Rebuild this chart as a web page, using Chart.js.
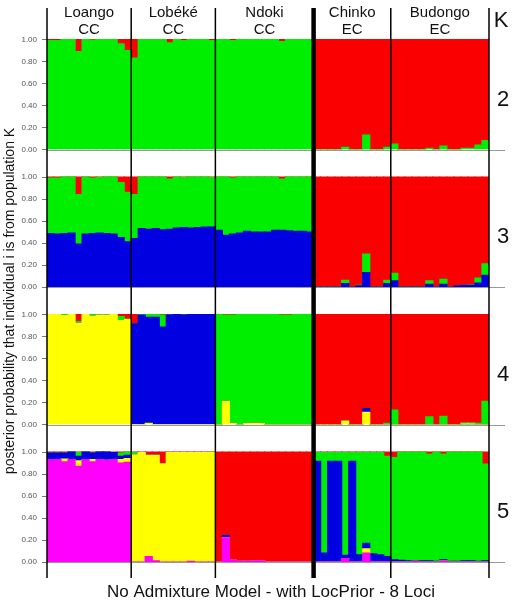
<!DOCTYPE html>
<html>
<head>
<meta charset="utf-8">
<script src="https://cdn.jsdelivr.net/npm/chart.js@4.4.1/dist/chart.umd.min.js"></script>
<style>
  html, body { margin: 0; padding: 0; background: #fff; }
  canvas { display: block; }
</style>
</head>
<body>
<canvas id="structureChart" width="515" height="606"></canvas>
<script>
// populations (label lines) and number of individuals in each
const popNames = [['Loango', 'CC'], ['Lobéké', 'CC'], ['Ndoki', 'CC'], ['Chinko', 'EC'], ['Budongo', 'EC']];
const popSizes = [12, 12, 14, 11, 14];
const kValues = ['2', '3', '4', '5'];
const yTicks = [0, 0.2, 0.4, 0.6, 0.8, 1.0];

// colours of the clusters
const RED = '#fb0000';
const GREEN = '#00ee00';
const BLUE = '#0000e0';
const YELLOW = '#ffff00';
const MAGENTA = '#ff00ff';

// K = 2  (order: Loango | Lobéké | Ndoki | Chinko | Budongo)
const k2Green = [.99,.99,1,1,.89,1,.995,1,1,1,.96,.90,
    .83,1,1,1,1,.97,1,.99,1,1,1,.99,
    1,1,.99,1,1,1,1,1,1,.98,1,1,1,1,
    0,0,0,0,.02,0,0,.13,0,0,.02,
    .05,0,0,0,0,.01,0,.03,0,0,.01,.01,.04,.08];
const k2Red = [.01,.01,0,0,.11,0,.005,0,0,0,.04,.10,
    .17,0,0,0,0,.03,0,.01,0,0,0,.01,
    0,0,.01,0,0,0,0,0,0,.02,0,0,0,0,
    1,1,1,1,.98,1,1,.87,1,1,.98,
    .95,1,1,1,1,.99,1,.97,1,1,.99,.99,.96,.92];

// K = 3
const k3Blue = [.485,.48,.485,.49,.39,.48,.485,.49,.485,.48,.45,.41,
    .44,.53,.525,.53,.52,.525,.535,.54,.535,.54,.545,.545,
    .515,.47,.48,.49,.505,.50,.50,.50,.515,.515,.51,.505,.505,.50,
    0,0,0,0,.03,0,.01,.13,0,0,.03,
    .055,0,0,0,0,.025,0,.025,0,.01,.015,.015,.035,.105];
const k3Green = [.505,.51,.515,.51,.45,.52,.505,.505,.515,.52,.50,.45,
    .40,.47,.475,.47,.48,.455,.465,.455,.465,.46,.455,.45,
    .485,.53,.51,.51,.495,.50,.50,.50,.485,.465,.49,.495,.495,.50,
    0,0,0,0,.03,0,.005,.17,0,0,.03,
    .07,0,0,0,0,.03,0,.045,0,0,0,.005,.045,.105];
const k3Red = [.01,.01,0,0,.16,0,.01,.005,0,0,.05,.14,
    .16,0,0,0,0,.02,0,.005,0,0,0,.005,
    0,0,.01,0,0,0,0,0,0,.02,0,0,0,0,
    1,1,1,1,.94,1,.985,.70,1,1,.94,
    .875,1,1,1,1,.945,1,.93,1,.99,.985,.98,.92,.79];

// K = 4
const k4Yellow = [1,1,.99,1,.92,1,.985,.995,.995,1,.945,.955,
    0,0,.01,0,0,0,0,0,0,0,0,0,
    0,.21,.01,0,.01,.01,.01,0,0,0,0,0,0,0,
    0,0,0,0,.03,0,0,.11,0,0,0,
    0,0,0,0,0,0,0,0,0,0,.005,.005,0,0];
const k4Blue = [0,0,0,0,0,0,0,0,0,0,0,0,
    .915,.995,.965,.975,.885,.995,1,.995,1,1,1,1,
    0,0,0,0,0,0,0,0,0,0,0,0,0,0,
    0,0,0,0,0,0,0,.035,0,0,0,
    0,0,0,0,0,0,0,0,0,0,0,0,0,0];
const k4Green = [0,0,.01,0,.015,0,.015,.005,.005,0,.035,0,
    0,.005,.025,.025,.11,0,0,0,0,0,0,0,
    1,.785,.985,1,.99,.99,.99,1,1,.995,.995,1,1,1,
    0,0,0,0,0,0,0,0,0,0,.01,
    .13,0,0,0,0,.07,0,.075,0,0,.01,.01,.01,.21];
const k4Red = [0,0,0,0,.065,0,0,0,0,0,.02,.045,
    .085,0,0,0,.005,.005,0,.005,0,0,0,0,
    0,.005,.005,0,0,0,0,0,0,.005,.005,0,0,0,
    1,1,1,1,.97,1,1,.855,1,1,.99,
    .87,1,1,1,1,.93,1,.925,1,1,.985,.985,.99,.79];

// K = 5
const k5Magenta = [.93,.93,.91,.93,.87,.93,.91,.93,.925,.93,.90,.905,
    0,0,.05,.01,0,0,0,0,.005,0,0,0,
    0,.22,.02,.005,.005,.01,.01,0,0,0,0,0,0,0,
    0,0,0,0,.03,0,0,.08,0,0,0,
    0,0,0,.005,0,0,0,.01,0,0,0,0,0,0];
const k5Yellow = [0,0,.025,0,.05,0,.02,0,0,0,.03,.035,
    .975,.995,.92,.96,.893,.995,.995,.995,.99,.995,.995,1,
    0,0,0,0,0,0,0,0,0,0,0,0,0,0,
    0,0,0,0,0,0,0,.04,0,0,0,
    0,0,0,0,0,0,0,0,0,0,0,0,0,0];
const k5Blue = [.06,.06,.055,.07,.04,.07,.06,.07,.075,.065,.03,.03,
    0,0,0,0,0,0,0,0,0,0,0,0,
    0,.02,0,0,0,0,0,0,0,0,0,0,0,0,
    .915,.08,.915,.915,.03,.915,.065,.05,.075,.065,.05,
    .02,.015,.01,.005,.01,.01,.005,.01,.005,.005,.01,.01,.005,.01];
const k5Green = [0,0,0,0,.035,0,0,0,0,0,.03,.03,
    .02,0,0,0,0,0,0,0,0,0,0,0,
    0,0,0,0,0,0,0,0,0,0,0,0,0,0,
    .08,.915,.08,.08,.935,.08,.93,.825,.92,.93,.91,
    .93,.985,.99,.99,.99,.97,.995,.96,.995,.995,.99,.99,.995,.88];
const k5Red = [.01,.01,.01,0,.005,0,.01,0,0,.005,.01,0,
    .005,.005,.03,.03,.107,.005,.005,.005,.005,.005,.005,0,
    1,.76,.98,.995,.995,.99,.99,1,1,1,1,1,1,1,
    .005,.005,.005,.005,.005,.005,.005,.005,.005,.005,.04,
    .05,0,0,0,0,.02,0,.02,0,0,0,0,0,.11];

const individuals = k2Green.map((v, i) => String(i + 1));

function bar(data, color, axis) {
    return {
        data: data,
        backgroundColor: color,
        borderWidth: 0,
        inflateAmount: 0.6,  // overlap neighbours a little so no seams show
        yAxisID: axis,
        barPercentage: 1,
        categoryPercentage: 1
    };
}

function panelAxis(weight) {
    return {
        type: 'linear',
        position: 'left',
        stack: 'panels',
        stackWeight: 1,
        weight: weight,
        stacked: true,
        min: 0,
        max: 1.25,
        afterBuildTicks: scale => { scale.ticks = yTicks.map(v => ({ value: v })); },
        afterFit: scale => { scale.width = 47; },
        ticks: {
            callback: v => v.toFixed(2),
            font: { family: 'Liberation Sans, Arial, sans-serif', size: 8 },
            color: '#555',
            padding: 5
        },
        grid: { drawOnChartArea: false, drawTicks: true, tickLength: 5, color: '#777' },
        border: { display: false }
    };
}

// separators, zero lines and all the labels
const decorations = {
    id: 'decorations',
    afterDraw(chart) {
        const c = chart.ctx;
        const x = chart.scales.x;
        const area = chart.chartArea;
        const font = 'Liberation Sans, Arial, sans-serif';
        const axes = ['yK2', 'yK3', 'yK4', 'yK5'].map(id => chart.scales[id]);

        c.save();
        // zero line of each panel
        c.strokeStyle = '#999';
        c.lineWidth = 1;
        axes.forEach(s => {
            const y = Math.round(s.getPixelForValue(0)) + 0.5;
            c.beginPath();
            c.moveTo(area.left, y);
            c.lineTo(505, y);
            c.stroke();
        });

        // population separators
        let edge = -0.5;
        const bounds = [edge];
        popSizes.forEach(n => { edge += n; bounds.push(edge); });
        c.strokeStyle = '#000';
        bounds.forEach((b, i) => {
            const px = x.getPixelForValue(b);
            c.lineWidth = i === 3 ? 4.5 : 1.5;
            c.beginPath();
            c.moveTo(px, 8);
            c.lineTo(px, 578);
            c.stroke();
        });

        // population names
        c.fillStyle = '#111';
        c.textAlign = 'center';
        c.textBaseline = 'middle';
        c.font = '15px ' + font;
        popNames.forEach((lines, i) => {
            const cx = (x.getPixelForValue(bounds[i]) + x.getPixelForValue(bounds[i + 1])) / 2;
            c.fillText(lines[0], cx, 13);
            c.fillText(lines[1], cx, 30);
        });

        // K labels
        c.font = '22px ' + font;
        c.fillText('K', 501, 21);
        axes.forEach((s, i) => {
            const mid = (s.getPixelForValue(0) + s.getPixelForValue(1)) / 2;
            c.fillText(kValues[i], 503, mid + 5);
        });

        // bottom title
        c.font = '17px ' + font;
        c.fillText('No Admixture Model - with LocPrior - 8 Loci', 271, 592);

        // y title
        c.font = '14px ' + font;
        c.translate(10, 301);
        c.rotate(-Math.PI / 2);
        c.fillText('posterior probability that individual i is from population K', 0, 0);
        c.restore();
    }
};

const ctx = document.getElementById('structureChart');

const structureChart = new Chart(ctx, {
    type: 'bar',
    data: {
        labels: individuals,
        datasets: [
            bar(k2Green, GREEN, 'yK2'),
            bar(k2Red, RED, 'yK2'),
            bar(k3Blue, BLUE, 'yK3'),
            bar(k3Green, GREEN, 'yK3'),
            bar(k3Red, RED, 'yK3'),
            bar(k4Yellow, YELLOW, 'yK4'),
            bar(k4Blue, BLUE, 'yK4'),
            bar(k4Green, GREEN, 'yK4'),
            bar(k4Red, RED, 'yK4'),
            bar(k5Magenta, MAGENTA, 'yK5'),
            bar(k5Yellow, YELLOW, 'yK5'),
            bar(k5Blue, BLUE, 'yK5'),
            bar(k5Green, GREEN, 'yK5'),
            bar(k5Red, RED, 'yK5')
        ]
    },
    options: {
        responsive: false,
        animation: false,
        devicePixelRatio: 1,
        layout: { padding: { left: 0, right: 26, top: 12, bottom: 44 } },
        scales: {
            x: { stacked: true, display: false },
            yK2: panelAxis(4),
            yK3: panelAxis(3),
            yK4: panelAxis(2),
            yK5: panelAxis(1)
        },
        plugins: {
            legend: { display: false },
            tooltip: { enabled: false }
        }
    },
    plugins: [decorations]
});
</script>
</body>
</html>
